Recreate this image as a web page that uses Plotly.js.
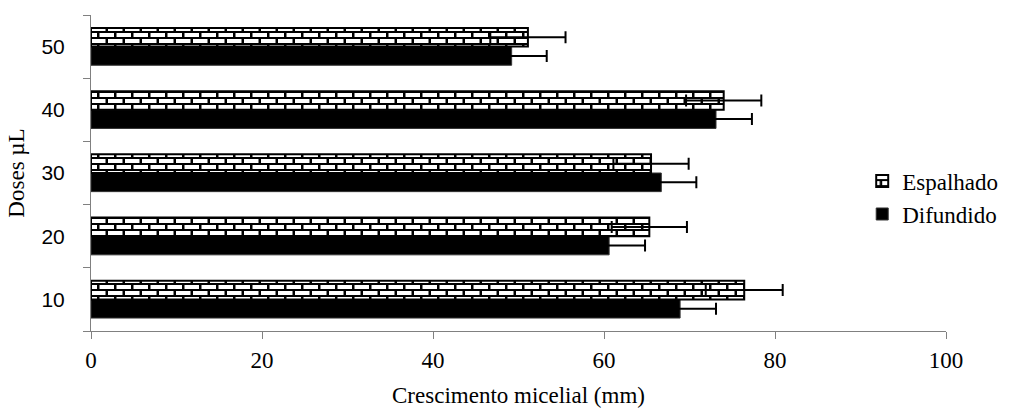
<!DOCTYPE html>
<html>
<head>
<meta charset="utf-8">
<script src="https://cdn.plot.ly/plotly-3.0.1.min.js"></script>
<style>html,body{margin:0;padding:0;background:#fff;}#chart{width:1016px;height:410px;}</style>
</head>
<body>
<div id="chart"></div>
<script>
const doses = ['10', '20', '30', '40', '50'];
const espalhado = [76.4, 65.3, 65.5, 74.0, 51.1];
const espalhadoErr = [4.5, 4.4, 4.4, 4.4, 4.4];
const difundido = [68.9, 60.6, 66.7, 73.1, 49.2];
const difundidoErr = [4.2, 4.2, 4.1, 4.2, 4.1];
const xTicks = [0, 20, 40, 60, 80, 100];

const serif = '"Liberation Serif", "Times New Roman", serif';
const sans = '"Liberation Sans", Arial, sans-serif';

const traces = [
  {
    type: 'bar', orientation: 'h', name: 'Difundido', legendgroup: 'd',
    y: doses, x: difundido,
    marker: {color: '#000000', line: {color: '#333333', width: 1}},
    error_x: {type: 'data', array: difundidoErr, visible: true, color: '#000000', thickness: 2, width: 6}
  },
  {
    type: 'bar', orientation: 'h', name: 'Espalhado', legendgroup: 'e',
    y: doses, x: espalhado,
    marker: {color: '#ffffff', line: {color: '#000000', width: 2},
      pattern: {shape: '+', bgcolor: '#ffffff', fgcolor: '#000000', size: 6, solidity: 0.3}},
    error_x: {type: 'data', array: espalhadoErr, visible: true, color: '#000000', thickness: 2, width: 6}
  }
];

const layout = {
  width: 1016, height: 410,
  margin: {l: 91, r: 70, t: 15, b: 79},
  paper_bgcolor: '#ffffff', plot_bgcolor: '#ffffff',
  barmode: 'group', bargap: 0.41, bargroupgap: 0,
  showlegend: true,
  legend: {x: 0.902, xanchor: 'left', y: 0.422, yanchor: 'middle',
    traceorder: 'reversed', tracegroupgap: 1,
    font: {family: serif, size: 23, color: '#000'}, bgcolor: 'rgba(0,0,0,0)'},
  xaxis: {
    range: [0, 100], tickvals: xTicks, ticktext: xTicks.map(String),
    showgrid: false, zeroline: false, showline: true, linecolor: '#808080', linewidth: 1,
    ticks: 'outside', ticklen: 7, tickcolor: '#808080', ticklabelstandoff: 1,
    tickfont: {family: serif, size: 23, color: '#000'},
    title: {text: 'Crescimento micelial (mm)', font: {family: serif, size: 23, color: '#000'}, standoff: 15}
  },
  yaxis: {
    type: 'category', categoryorder: 'array', categoryarray: doses,
    showgrid: false, zeroline: false, showline: true, linecolor: '#808080', linewidth: 1,
    ticks: 'outside', ticklen: 7, tickcolor: '#808080', tickson: 'boundaries', ticklabelstandoff: 21,
    tickfont: {family: sans, size: 21, color: '#000'},
    title: {text: 'Doses µL', font: {family: serif, size: 23, color: '#000'}, standoff: 10}
  }
};

function brickify() {
  document.querySelectorAll('#chart pattern').forEach(function (p) {
    p.setAttribute('width', '17');
    p.setAttribute('height', '12');
    p.setAttribute('patternUnits', 'userSpaceOnUse');
    p.removeAttribute('patternTransform');
    p.innerHTML =
      '<rect x="0" y="0" width="17" height="12" fill="#000"/>' +
      '<rect x="0" y="0" width="14.5" height="4" fill="#fff"/>' +
      '<rect x="0" y="6" width="6" height="4" fill="#fff"/>' +
      '<rect x="8.5" y="6" width="8.5" height="4" fill="#fff"/>';
  });
}

Plotly.newPlot('chart', traces, layout, {displayModeBar: false, staticPlot: true}).then(function (gd) {
  brickify();
  gd.on('plotly_afterplot', brickify);
});
</script>
</body>
</html>
